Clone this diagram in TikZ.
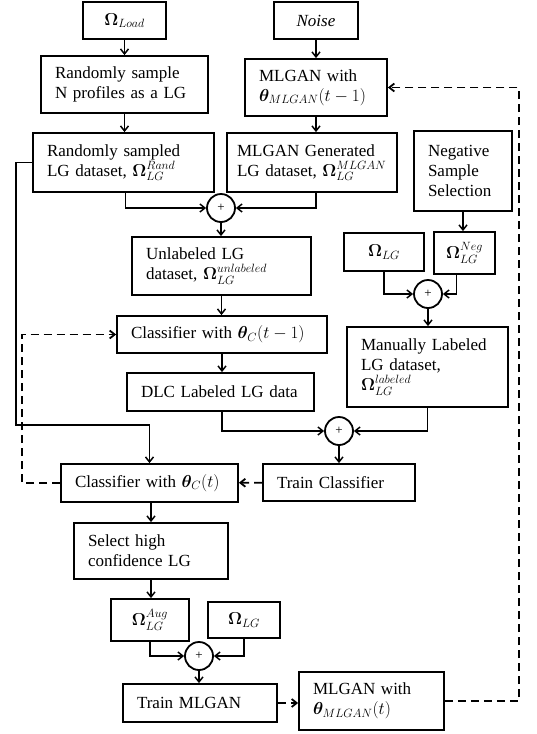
\documentclass[tikz,border=0pt]{standalone}
\usepackage{fontspec}
\setmainfont{Liberation Serif}
\usepackage{amsmath,bm}
\usetikzlibrary{arrows.meta}

\begin{document}
\begin{tikzpicture}[x=1pt,y=-1pt,
    blk/.style={draw,line width=1.8pt,align=left,inner xsep=14pt,inner ysep=0pt},
    oblk/.style={draw,line width=1.8pt,align=center,inner sep=0pt},
    adder/.style={draw,circle,line width=1.8pt,minimum size=28pt,inner sep=0pt,font=\fontsize{13}{13}\selectfont},
    conn/.style={line width=1.5pt,-{Straight Barb[length=5pt,width=8pt]}},
    dconn/.style={conn,line width=1.8pt,dash pattern=on 8pt off 5pt}]
    \fontsize{17}{20}\selectfont
    \useasboundingbox (0,0) rectangle (536,734);

    \node[oblk,minimum width=83pt,minimum height=37pt] (load) at (124.5,20.5) {$\bm{\Omega}_{Load}$};
    \node[oblk,minimum width=84pt,minimum height=37pt] (noise) at (316,20.5) {$\mathit{Noise}$};
    \node[blk,text width=139pt,minimum height=57pt] (rsamp) at (124.5,84.5) {Randomly sample\\N profiles as a LG};
    \node[blk,text width=114pt,minimum height=57pt] (mlgA) at (316,87.5) {MLGAN with\\$\bm{\theta}_{MLGAN}(t-1)$};
    \node[blk,text width=153pt,minimum height=59pt] (rdata) at (123.5,162.5) {Randomly sampled\\LG dataset, $\bm{\Omega}_{LG}^{Rand}$};
    \node[blk,inner xsep=10pt,text width=150pt,minimum height=59pt] (gdata) at (312,162.5) {MLGAN Generated\\LG dataset, $\bm{\Omega}_{LG}^{MLGAN}$};
    \node[blk,text width=70pt,minimum height=80pt] (negsel) at (463,171) {Negative\\Sample\\Selection};
    \node[adder] (pA) at (221,208) {+};
    \node[blk,text width=151pt,minimum height=58pt] (unlab) at (221.5,266) {Unlabeled LG\\dataset, $\bm{\Omega}_{LG}^{unlabeled}$};
    \node[oblk,minimum width=80pt,minimum height=38pt] (omA) at (384,252) {$\bm{\Omega}_{LG}$};
    \node[oblk,minimum width=61pt,minimum height=42pt] (oneg) at (464.5,253) {$\bm{\Omega}_{LG}^{Neg}$};
    \node[adder] (pB) at (428,294) {+};
    \node[blk,text width=133pt,minimum height=80pt] (manual) at (427.5,367) {Manually Labeled\\LG dataset,\\$\bm{\Omega}_{LG}^{labeled}$};
    \node[blk,text width=182pt,minimum height=37pt] (clsA) at (222,334.5) {Classifier with $\bm{\theta}_C(t-1)$};
    \node[blk,text width=159pt,minimum height=38pt] (dlc) at (220.5,392) {DLC Labeled LG data};
    \node[adder] (pC) at (339,431) {+};
    \node[blk,text width=124pt,minimum height=37pt] (trcls) at (339,482.5) {Train Classifier};
    \node[blk,text width=149pt,minimum height=38pt] (clsB) at (149.5,483) {Classifier with $\bm{\theta}_C(t)$};
    \node[blk,text width=126pt,minimum height=56pt] (select) at (151,551) {Select high\\confidence LG};
    \node[oblk,minimum width=78pt,minimum height=42pt] (oaug) at (150,620) {$\bm{\Omega}_{LG}^{Aug}$};
    \node[oblk,minimum width=72pt,minimum height=36pt] (omB) at (244,620) {$\bm{\Omega}_{LG}$};
    \node[adder] (pD) at (199,656) {+};
    \node[blk,text width=126pt,minimum height=38pt] (trml) at (200,703) {Train MLGAN};
    \node[blk,text width=117pt,minimum height=58pt] (mlgB) at (371.5,701) {MLGAN with\\$\bm{\theta}_{MLGAN}(t)$};

    % generation branch
    \draw[conn] (load) -- (load |- rsamp.north);
    \draw[conn] (noise) -- (noise |- mlgA.north);
    \draw[conn] (rsamp) -- (rsamp |- rdata.north);
    \draw[conn] (mlgA) -- (mlgA |- gdata.north);
    \draw[conn] ([xshift=2pt]rdata.south) |- (pA);
    \draw[conn] (mlgA |- gdata.south) |- (pA);
    \draw[conn] (pA) -- (pA |- unlab.north);
    \draw[conn] (rdata.west) -- ++(-16,0) |- ([yshift=38pt]clsB.north) -- (clsB.north);

    % classifier branch
    \draw[conn] (unlab) -- (unlab |- clsA.north);
    \draw[conn] (clsA) -- (clsA |- dlc.north);
    \draw[conn] (negsel) -- (negsel |- oneg.north);
    \draw[conn] (omA) |- (pB);
    \draw[conn] ([xshift=-8pt]oneg.south) |- (pB);
    \draw[conn] (pB) -- (pB |- manual.north);
    \draw[conn] ([xshift=1.5pt]dlc.south) |- (pC);
    \draw[conn] (manual) |- (pC);
    \draw[conn] (pC) -- (pC |- trcls.north);
    \draw[dconn] (trcls) -- (clsB);
    \draw[dconn] (clsB.west) -- ++(-38,0) |- (clsA.west);

    % MLGAN update
    \draw[conn] (select |- clsB.south) -- (select);
    \draw[conn] (select) -- (select |- oaug.north);
    \draw[conn] (oaug) |- (pD);
    \draw[conn] (omB) |- (pD);
    \draw[conn] (pD) -- (pD |- trml.north);
    \draw[dconn] (trml) -- (trml -| mlgB.west);
    \draw[dconn] (mlgB.east) -- ++(74,0) |- (mlgA.east);
\end{tikzpicture}
\end{document}
